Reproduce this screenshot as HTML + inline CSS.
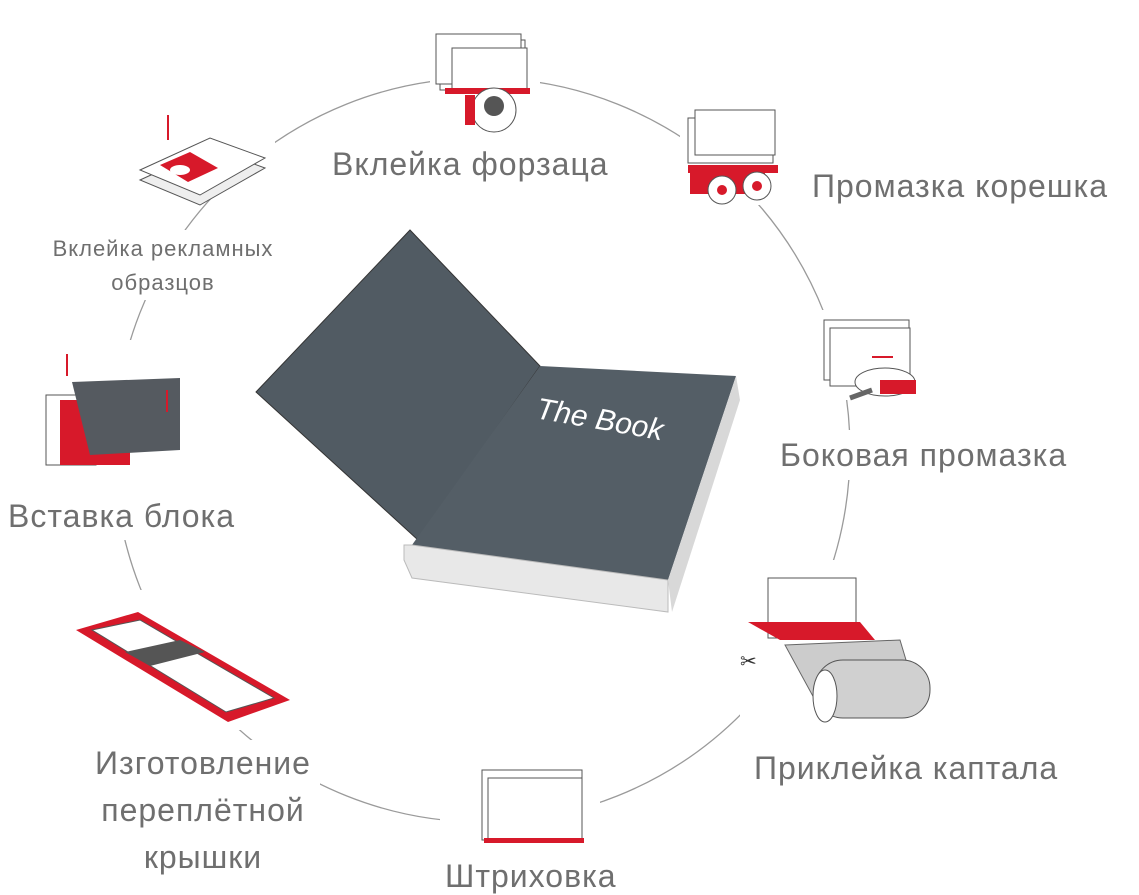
<!DOCTYPE html>
<html><head><meta charset="utf-8"><style>
html,body{margin:0;padding:0;background:#fff;}
body{width:1139px;height:895px;position:relative;overflow:hidden;font-family:"Liberation Sans","DejaVu Sans",sans-serif;}
.t{position:absolute;color:#6f6f6f;white-space:nowrap;font-size:32px;letter-spacing:1px;}
</style></head><body>
<svg width="1139" height="895" style="position:absolute;left:0;top:0">
<ellipse cx="482" cy="450" rx="368" ry="372" fill="none" stroke="#9a9a9a" stroke-width="1.3"/>
<rect x="320" y="140" width="300" height="50" fill="#fff"/>
<rect x="430" y="20" width="110" height="115" fill="#fff"/>
<rect x="680" y="105" width="100" height="100" fill="#fff"/>
<rect x="30" y="230" width="270" height="70" fill="#fff"/>
<rect x="135" y="100" width="140" height="95" fill="#fff"/>
<rect x="0" y="340" width="200" height="200" fill="#fff"/>
<rect x="60" y="590" width="240" height="140" fill="#fff"/>
<rect x="90" y="740" width="230" height="140" fill="#fff"/>
<rect x="440" y="760" width="160" height="135" fill="#fff"/>
<rect x="740" y="560" width="200" height="230" fill="#fff"/>
<rect x="770" y="430" width="310" height="50" fill="#fff"/>
<rect x="810" y="310" width="110" height="90" fill="#fff"/>
<polygon points="256,392 410,230 540,366 418,540" fill="#515b63" stroke="#333" stroke-width="1"/>
<polygon points="540,366 736,376 668,580 412,545" fill="#545e66"/>
<polygon points="404,545 412,545 668,580 668,612 412,578 404,560" fill="#e8e8e8" stroke="#bbb"/>
<polygon points="736,376 740,400 672,612 668,580" fill="#d8d8d8"/>
<text x="535" y="418" fill="#fff" font-size="30" font-style="italic" font-family="Liberation Sans" transform="rotate(10 535 418)">The Book</text>
<g>
<rect x="440" y="40" width="85" height="50" fill="#fff" stroke="#555"/>
<rect x="436" y="34" width="85" height="50" fill="#fff" stroke="#555"/>
<rect x="452" y="48" width="75" height="42" fill="#fff" stroke="#555"/>
<rect x="445" y="88" width="85" height="6" fill="#d7192a"/>
<circle cx="494" cy="110" r="22" fill="#fff" stroke="#555"/>
<circle cx="494" cy="106" r="10" fill="#555"/>
<rect x="465" y="95" width="10" height="30" fill="#d7192a"/>
</g>
<g>
<rect x="688" y="118" width="85" height="45" fill="#fff" stroke="#555"/>
<rect x="695" y="110" width="80" height="45" fill="#fff" stroke="#555"/>
<rect x="688" y="165" width="90" height="8" fill="#d7192a"/>
<rect x="690" y="172" width="75" height="22" fill="#d7192a"/>
<circle cx="722" cy="190" r="14" fill="#fff" stroke="#555"/>
<circle cx="757" cy="186" r="14" fill="#fff" stroke="#555"/>
<circle cx="722" cy="190" r="5" fill="#d7192a"/><circle cx="757" cy="186" r="5" fill="#d7192a"/>
</g>
<g>
<rect x="824" y="320" width="85" height="60" fill="#fff" stroke="#555"/>
<rect x="830" y="328" width="80" height="58" fill="#fff" stroke="#555"/>
<line x1="872" y1="357" x2="893" y2="357" stroke="#d7192a" stroke-width="2"/>
<ellipse cx="885" cy="382" rx="30" ry="14" fill="#fff" stroke="#555"/>
<rect x="880" y="380" width="36" height="14" fill="#d7192a"/>
<line x1="850" y1="398" x2="872" y2="390" stroke="#666" stroke-width="5"/>
</g>
<g>
<rect x="768" y="578" width="88" height="60" fill="#fff" stroke="#555"/>
<polygon points="748,622 860,622 875,640 780,640" fill="#d7192a"/>
<polygon points="785,645 900,640 915,690 815,700" fill="#ccc" stroke="#666"/>
<rect x="815" y="660" width="115" height="58" rx="28" fill="#d0d0d0" stroke="#555"/>
<ellipse cx="825" cy="696" rx="12" ry="26" fill="#fff" stroke="#555"/>
<text x="740" y="668" font-size="20" fill="#333">✂</text>
</g>
<g>
<rect x="482" y="770" width="100" height="70" fill="#fff" stroke="#555"/>
<rect x="488" y="778" width="94" height="64" fill="#fff" stroke="#555"/>
<rect x="484" y="838" width="100" height="5" fill="#d7192a"/>
</g>
<g>
<polygon points="76,630 138,612 290,700 228,722" fill="#d7192a"/>
<polygon points="92,630 140,620 274,698 226,712" fill="#fff" stroke="#555"/>
<polygon points="125,652 180,640 205,652 150,666" fill="#555"/>
</g>
<g>
<rect x="46" y="395" width="50" height="70" fill="#fff" stroke="#555"/>
<rect x="60" y="400" width="70" height="65" fill="#d7192a"/>
<polygon points="72,382 180,378 180,450 90,455" fill="#555a60"/>
<line x1="67" y1="354" x2="67" y2="376" stroke="#d7192a" stroke-width="2"/>
<line x1="167" y1="390" x2="167" y2="412" stroke="#d7192a" stroke-width="2"/>
</g>
<g>
<polygon points="140,180 210,148 265,168 200,205" fill="#eee" stroke="#555"/>
<polygon points="140,170 210,138 265,158 200,195" fill="#fff" stroke="#555"/>
<polygon points="160,165 190,152 218,168 188,182" fill="#d7192a"/>
<ellipse cx="180" cy="170" rx="10" ry="5" fill="#fff"/>
<line x1="168" y1="115" x2="168" y2="140" stroke="#d7192a" stroke-width="2"/>
</g>
</svg>
<div class="t" style="left:332px;top:146px">Вклейка форзаца</div>
<div class="t" style="left:812px;top:168px">Промазка корешка</div>
<div class="t" style="left:28px;top:232px;font-size:22px;text-align:center;width:270px;line-height:34px;white-space:normal">Вклейка рекламных образцов</div>
<div class="t" style="left:780px;top:437px">Боковая промазка</div>
<div class="t" style="left:8px;top:498px">Вставка блока</div>
<div class="t" style="left:754px;top:750px">Приклейка каптала</div>
<div class="t" style="left:73px;top:740px;width:260px;text-align:center;line-height:47px;white-space:normal">Изготовление переплётной крышки</div>
<div class="t" style="left:445px;top:858px">Штриховка</div>
</body></html>
